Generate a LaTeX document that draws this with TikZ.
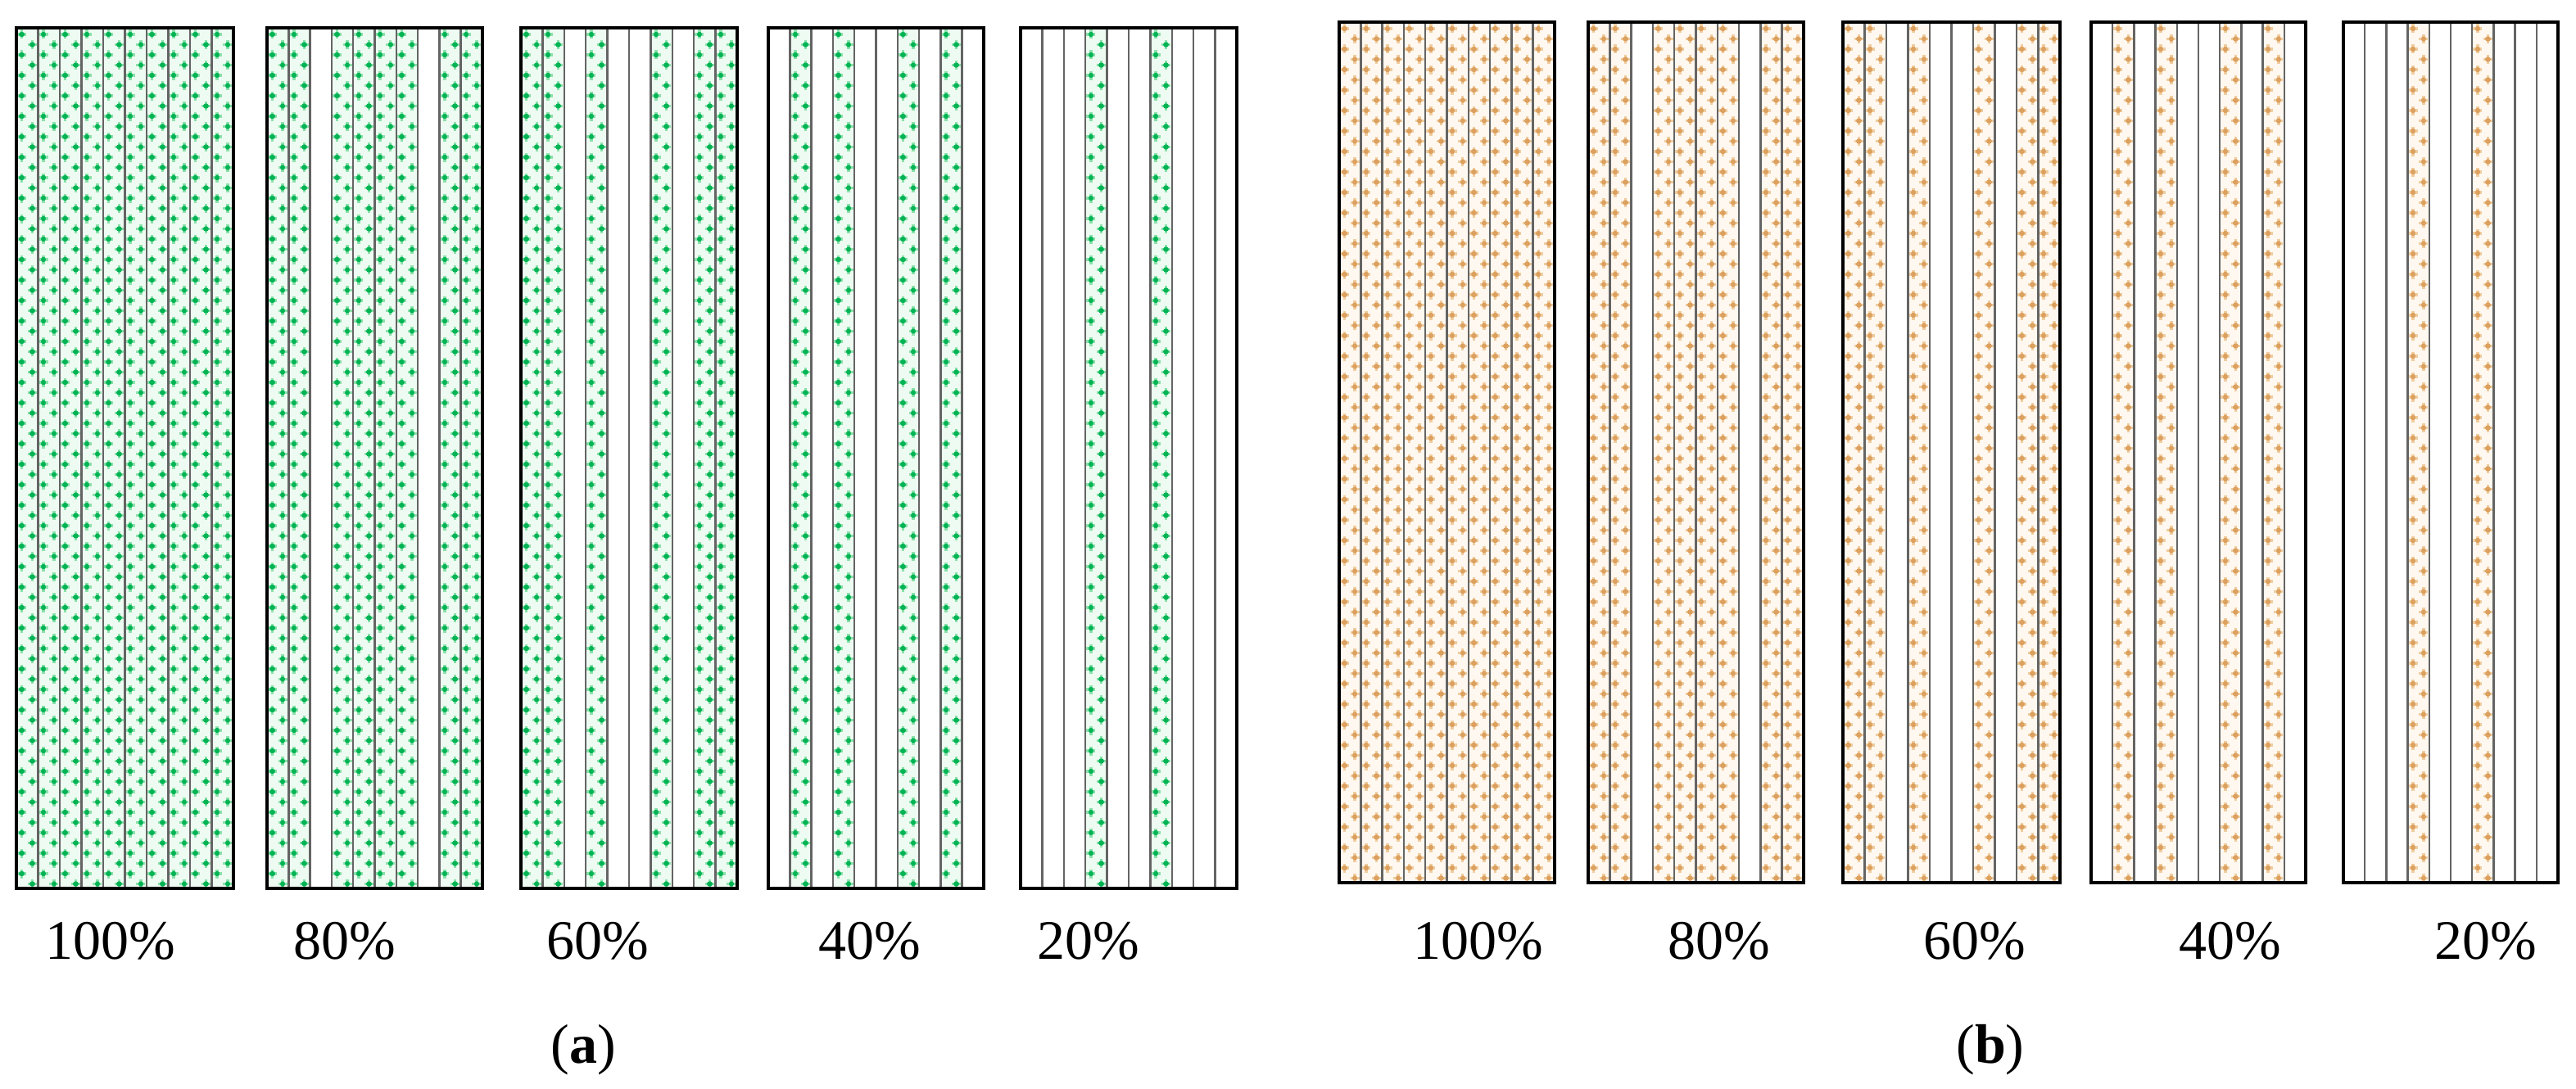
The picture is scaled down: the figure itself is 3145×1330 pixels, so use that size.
\documentclass[tikz,border=0pt]{standalone}
\usepackage{fontspec}
\setmainfont{Liberation Serif}
\definecolor{gdot}{RGB}{0,180,85}
\definecolor{ghalo}{RGB}{140,225,170}
\definecolor{gtint}{RGB}{238,251,242}
\definecolor{odot}{RGB}{220,160,95}
\definecolor{ohalo}{RGB}{240,205,160}
\definecolor{otint}{RGB}{254,248,240}
\definecolor{stripline}{RGB}{100,100,100}
\tikzset{
  boxframe/.style={draw=black, line width=4pt},
  divider/.style={draw=stripline, line width=2.5pt},
  pct/.style={font=\fontsize{68}{72}\selectfont, inner sep=0pt, anchor=base},
}
\newcommand\stripbox[6]{% #1 left, #2 right, #3 top, #4 bottom, #5 filled strips, #6 colour prefix
  \pgfmathsetmacro\bxw{(#2-#1)/10}%
  \foreach \k in {#5} {%
    \pgfmathsetmacro\xa{#1+(\k-0.75)*\bxw}%
    \pgfmathsetmacro\xb{#1+(\k-0.27)*\bxw}%
    \pgfmathsetmacro\sl{#1+(\k-1)*\bxw}%
    \pgfmathsetmacro\sr{#1+\k*\bxw}%
    \fill[#6tint] (\sl,#3) rectangle (\sr,#4);
    \draw[#6halo, line width=3.5pt] \foreach \j in {0,...,41} {(\xa-5.5,#3+8+25*\j) -- ++(11,0) (\xa,#3+2.5+25*\j) -- ++(0,11) (\xb-5.5,#3+20.5+25*\j) -- ++(11,0) (\xb,#3+15+25*\j) -- ++(0,11)};
    \draw[#6dot, line width=6.4pt, line cap=round] \foreach \j in {0,...,41} {(\xa,#3+8+25*\j) -- ++(0,0.01) (\xb,#3+20.5+25*\j) -- ++(0,0.01)};
  }
  \foreach \k in {1,...,9} {\pgfmathsetmacro\lx{#1+\k*\bxw}\draw[divider] (\lx,#3) -- (\lx,#4);}
  \draw[boxframe] (#1,#3) rectangle (#2,#4);
}
\begin{document}
\begin{tikzpicture}[x=1pt,y=-1pt]
\useasboundingbox[fill=white] (0,0) rectangle (3145,1330);
% panel (a)
\stripbox{20}{285}{34}{1085}{1,...,10}{g}
\stripbox{326}{589}{34}{1085}{1,2,4,5,6,7,9,10}{g}
\stripbox{636}{900}{34}{1085}{1,2,4,7,9,10}{g}
\stripbox{938}{1201}{34}{1085}{2,4,7,9}{g}
\stripbox{1246}{1510}{34}{1085}{4,7}{g}
% panel (b)
\stripbox{1635}{1898}{27}{1078}{1,...,10}{o}
\stripbox{1939}{2202}{27}{1078}{1,2,4,5,6,7,9,10}{o}
\stripbox{2250}{2515}{27}{1078}{1,2,4,7,9,10}{o}
\stripbox{2553}{2815}{27}{1078}{2,4,7,9}{o}
\stripbox{2861}{3123}{27}{1078}{4,7}{o}
% labels
\node[pct] (la1) at (135,1171) {100\%};
\node[pct] (la2) at (421,1171) {80\%};
\node[pct] (la3) at (730,1171) {60\%};
\node[pct] (la4) at (1062,1171) {40\%};
\node[pct] (la5) at (1329,1171) {20\%};
\node[pct] (lb1) at (1805,1171) {100\%};
\node[pct] (lb2) at (2099,1171) {80\%};
\node[pct] (lb3) at (2411,1171) {60\%};
\node[pct] (lb4) at (2723,1171) {40\%};
\node[pct] (lb5) at (3035,1171) {20\%};
\node[pct] (capa) at (712,1298) {(\textbf{a})};
\node[pct] (capb) at (2430,1298) {(\textbf{b})};
\end{tikzpicture}
\end{document}
